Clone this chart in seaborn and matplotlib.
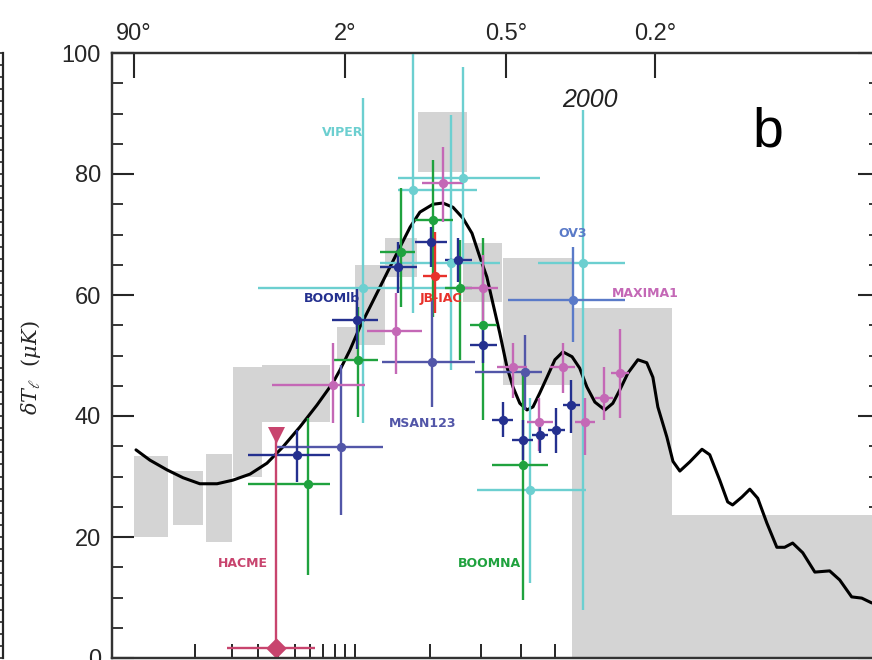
import numpy as np
import pandas as pd
import matplotlib
matplotlib.use("Agg")
import matplotlib.pyplot as plt
import seaborn as sns

# ---------------- data (multipole l, delta T in microK) ----------------
curve_l = [2.17, 3.33, 5.26, 7.69, 11.0, 15.3, 20.2, 26.6, 34.2, 42.7, 53.2, 65.4, 78.6,
           84.9, 94.5, 104.8, 116, 127.9, 140.6, 154.3, 169, 184.2, 205.8, 223.4, 242.3,
           262, 281, 298, 314, 328, 345, 363, 378.6, 397, 416.8, 434, 454, 476, 501, 527,
           558, 585, 611, 641, 680, 712, 741, 776, 820, 861, 890, 914, 959, 990, 1026,
           1079, 1148, 1193, 1253, 1302, 1333, 1393, 1446, 1500, 1564, 1636, 1694, 1755,
           1834, 1932, 2057, 2145, 2253, 2347, 2443]
curve_v = [34.4, 32.7, 31.1, 29.8, 28.8, 28.8, 29.4, 30.4, 32.2, 34.9, 38.2, 41.8, 45.5,
           47.6, 50.9, 54.7, 58.0, 61.3, 64.6, 67.9, 71.2, 73.7, 75.0, 75.2, 74.5,
           72.7, 70.2, 66.3, 63.0, 58.7, 53.7, 48.1, 44.8, 42.1, 41.0, 41.5, 43.8, 46.4,
           49.3, 50.6, 49.8, 47.9, 44.8, 42.3, 41.0, 42.1, 44.3, 47.1, 49.3, 48.8, 46.4,
           41.5, 36.5, 32.5, 30.9, 32.4, 34.5, 33.6, 29.4, 25.8, 25.3, 26.6, 27.9, 26.4,
           22.3, 18.3, 18.3, 19.0, 17.4, 14.2, 14.4, 12.9, 10.1, 9.9, 9.1]

# grey bands from earlier experiments
box_l0 = [2.0, 6.1, 12.4, 20.2, 31.8, 82, 100, 134, 181, 262, 353, 558, 984]
box_l1 = [5.4, 11.7, 19.9, 31.8, 76, 102, 134, 180, 270, 350, 558, 984, 2600]
box_lo = [20.0, 22.0, 19.2, 29.9, 39.0, 49.3, 51.7, 63.0, 80.3, 58.8, 45.1, 0.0, 0.0]
box_hi = [33.4, 30.9, 33.7, 48.1, 48.5, 54.7, 65.0, 69.4, 90.2, 68.6, 66.1, 57.9, 23.6]

# cyan points
cy_l   = [108, 173, 262, 238, 596, 425]
cy_v   = [61.2, 77.4, 79.3, 65.3, 65.3, 27.8]
cy_vlo = [38.8, 57.0, 66.0, 47.6, 7.9, 12.4]
cy_vhi = [92.6, 100.0, 97.7, 89.8, 90.6, 43.0]
cy_llo = [30, 151.5, 151.5, 128, 448.5, 291]
cy_lhi = [272, 291.5, 454, 345, 764, 608]

# green points
gr_l   = [58.7, 102.7, 155.7, 205.8, 256, 305, 405]
gr_v   = [28.8, 49.3, 67.1, 72.4, 61.2, 55.0, 31.9]
gr_vlo = [13.7, 39.8, 58.0, 56.4, 49.3, 39.3, 9.6]
gr_vhi = [39.7, 58.0, 77.7, 82.3, 69.1, 69.4, 47.1]
gr_llo = [25.7, 78.6, 128, 176, 227, 277, 326]
gr_lhi = [76, 125.5, 176, 242, 281, 338, 479]

# dark blue points
db_l   = [51.2, 101.7, 151.5, 202.4, 252, 304.9, 353, 405.5, 454, 504.4, 554]
db_v   = [33.6, 55.9, 64.6, 68.8, 65.8, 51.7, 39.3, 36.0, 36.9, 37.7, 41.8]
db_vlo = [29.1, 51.0, 60.3, 64.6, 62.1, 48.8, 36.5, 32.7, 33.9, 33.9, 37.2]
db_vhi = [37.7, 61.0, 68.8, 71.2, 69.4, 54.7, 42.3, 39.3, 39.3, 41.3, 46.0]
db_llo = [25.7, 77.7, 128, 176, 227, 277, 326, 376, 431, 479, 527]
db_lhi = [76, 125.5, 180, 231, 281, 338, 379, 434, 479, 534, 585]

# MSAN123 points (medium blue)
ms_l   = [85.8, 204, 411]
ms_v   = [34.9, 48.9, 47.3]
ms_vlo = [23.6, 41.5, 41.0]
ms_vhi = [48.4, 59.2, 53.4]
ms_llo = [38.8, 130, 287]
ms_lhi = [131.7, 287, 460]

# OV3 point
ov_l, ov_v, ov_vlo, ov_vhi, ov_llo, ov_lhi = [561], [59.2], [52.2], [67.9], [365], [762]

# magenta points
mg_l   = [78.6, 148.8, 223.4, 304.9, 378.6, 451.3, 527, 604, 676, 741]
mg_v   = [45.1, 54.0, 78.5, 61.2, 48.1, 39.0, 48.1, 39.0, 43.0, 47.1]
mg_vlo = [38.8, 47.0, 72.0, 55.0, 43.0, 34.2, 43.8, 33.6, 39.3, 39.7]
mg_vhi = [52.1, 60.3, 84.5, 66.6, 52.1, 43.0, 52.1, 43.0, 48.1, 54.4]
mg_llo = [36.7, 112.6, 187.4, 262, 338, 417, 485, 568, 640, 705]
mg_lhi = [110, 187.4, 262, 340, 417, 495, 568, 640, 712, 780]

# JB-IAC point
jb_l, jb_v, jb_vlo, jb_vhi, jb_llo, jb_lhi = [209.2], [63.1], [57.0], [70.4], [189], [231]

# HACME: upper limit and measurement
ha_l, ha_lim, ha_v, ha_llo, ha_lhi = [38.8], [36.9], [1.6], [18.2], [63.9]

labels = ["VIPER", "BOOMlb", "JB-IAC", "MSAN123", "OV3", "MAXIMA1", "HACME", "BOOMNA"]
label_l = [87.7, 77.7, 220, 189, 561, 852, 23.8, 321]
label_v = [86.8, 59.5, 59.5, 38.8, 70.2, 60.3, 15.7, 15.7]

top_tick_l = [2, 90, 360, 900]
top_tick_lab = ["90°", "2°", "0.5°", "0.2°"]
bottom_tick_l = [10, 20, 30, 40, 50, 60, 70, 80, 90, 100, 200, 300, 400, 500,
                 600, 700, 800, 900, 1000, 1500]

# colours
C_CY, C_GR, C_DB, C_MS, C_OV = "#6ccfd0", "#1fa23e", "#24308f", "#5256a8", "#5a7ac8"
C_MG, C_JB, C_HA, C_BOX = "#c468b6", "#e8312b", "#c8446e", "#d4d4d4"
label_cols = [C_CY, C_DB, C_JB, C_MS, C_OV, C_MG, C_HA, C_GR]

# ---------------- figure ----------------
sns.set_style("ticks")
plt.rcParams['font.family'] = ['Liberation Sans', 'DejaVu Sans']
plt.rcParams['mathtext.fontset'] = 'dejavuserif'

fig = plt.figure(figsize=(8.72, 6.6), dpi=100)
ax = fig.add_axes([112 / 872, 2 / 660, (880 - 112) / 872, 605 / 660])


def fwd(l):
    return np.power(np.clip(np.asarray(l, dtype=float), 1e-9, None), 0.3)


def inv(x):
    return np.power(np.clip(np.asarray(x, dtype=float), 0, None), 1 / 0.3)


XLIM = (0.885, 2524)
ax.set_xscale('function', functions=(fwd, inv))
ax.set_xlim(*XLIM)
ax.set_ylim(0, 100)

# grey boxes
bl0, bl1 = np.array(box_l0), np.array(box_l1)
blo, bhi = np.array(box_lo), np.array(box_hi)
ax.bar(bl0, bhi - blo, width=bl1 - bl0, bottom=blo, align='edge',
       color=C_BOX, linewidth=0, zorder=1)

# theory curve
sns.lineplot(x=curve_l, y=curve_v, ax=ax, color='black', lw=2.2,
             sort=False, estimator=None, zorder=3)


def draw(l, v, vlo, vhi, llo, lhi, col):
    l, v = np.array(l, float), np.array(v, float)
    vlo, vhi = np.array(vlo, float), np.array(vhi, float)
    llo, lhi = np.array(llo, float), np.array(lhi, float)
    ax.errorbar(l, v, yerr=[v - vlo, vhi - v], xerr=[l - llo, lhi - l],
                fmt='none', ecolor=col, elinewidth=1.7, capsize=0, zorder=4)
    sns.scatterplot(x=l, y=v, ax=ax, color=col, s=45, marker='o',
                    edgecolor=col, linewidth=0, zorder=5)


draw(cy_l, cy_v, cy_vlo, cy_vhi, cy_llo, cy_lhi, C_CY)
draw(gr_l, gr_v, gr_vlo, gr_vhi, gr_llo, gr_lhi, C_GR)
draw(ms_l, ms_v, ms_vlo, ms_vhi, ms_llo, ms_lhi, C_MS)
draw(ov_l, ov_v, ov_vlo, ov_vhi, ov_llo, ov_lhi, C_OV)
draw(mg_l, mg_v, mg_vlo, mg_vhi, mg_llo, mg_lhi, C_MG)
draw(db_l, db_v, db_vlo, db_vhi, db_llo, db_lhi, C_DB)
draw(jb_l, jb_v, jb_vlo, jb_vhi, jb_llo, jb_lhi, C_JB)

# HACME
ax.vlines(ha_l, ha_v, ha_lim, color=C_HA, lw=1.7, zorder=4)
ax.hlines(ha_v, ha_llo, ha_lhi, color=C_HA, lw=1.7, zorder=4)
sns.scatterplot(x=ha_l, y=ha_v, ax=ax, color=C_HA, marker='D', s=110,
                linewidth=0, zorder=5)
sns.scatterplot(x=ha_l, y=ha_lim, ax=ax, color=C_HA, marker='v', s=150,
                linewidth=0, zorder=5)

for t, lx, vy, c in zip(labels, label_l, label_v, label_cols):
    ax.text(lx, vy, t, color=c, fontsize=9, fontweight='bold',
            ha='center', va='center', family='DejaVu Sans', zorder=6)

ax.text(622, 92.2, "2000", fontsize=18, fontstyle='italic', ha='center',
        va='center', color='#222222')
ax.text(0.854, 0.868, "b", transform=ax.transAxes, fontsize=40,
        ha='center', va='center', color='black')

# axes styling
for s in ax.spines.values():
    s.set_linewidth(1.6)
    s.set_color('#333333')

ax.set_yticks([0, 20, 40, 60, 80, 100])
ax.set_yticks(np.arange(0, 101, 5), minor=True)
ax.tick_params(axis='y', which='major', direction='in', length=16, width=1.5,
               left=True, right=True, labelleft=True, labelsize=17, pad=8)
ax.tick_params(axis='y', which='minor', direction='in', length=8, width=1.3,
               left=True, right=True)

ax.set_xticks(bottom_tick_l)
ax.set_xticklabels([''] * len(bottom_tick_l))
ax.xaxis.set_minor_locator(matplotlib.ticker.NullLocator())
ax.tick_params(axis='x', which='major', direction='in', length=10, width=1.4,
               bottom=True, top=False)

# top axis: angular scale
top = ax.twiny()
top.set_xscale('function', functions=(fwd, inv))
top.set_xlim(*XLIM)
top.set_xticks(top_tick_l)
top.set_xticklabels(top_tick_lab)
top.xaxis.set_minor_locator(matplotlib.ticker.NullLocator())
top.tick_params(axis='x', which='major', direction='in', length=18, width=1.5,
                labelsize=17, pad=6)
for s in top.spines.values():
    s.set_linewidth(1.6)
    s.set_color('#333333')

ax.set_xlabel('')
ax.set_ylabel(r'$\delta T_{\ell}\ \ (\mu K)$', fontsize=15)
ax.yaxis.set_label_coords(-(112 - 43) / 768, 0.48)

# remnant of neighbouring panel at the left edge
ax0 = fig.add_axes([-0.3, 2 / 660, 0.3 + 3 / 872, 605 / 660])
for k in ['left', 'top', 'bottom']:
    ax0.spines[k].set_visible(False)
ax0.spines['right'].set_linewidth(1.6)
ax0.set_ylim(0, 100)
ax0.set_xticks([])
ax0.yaxis.tick_right()
ax0.set_yticks(np.arange(0, 101, 2))
ax0.set_yticklabels([])
ax0.tick_params(axis='y', direction='in', length=5, width=1.2)

fig.savefig("out.png", dpi=100)
